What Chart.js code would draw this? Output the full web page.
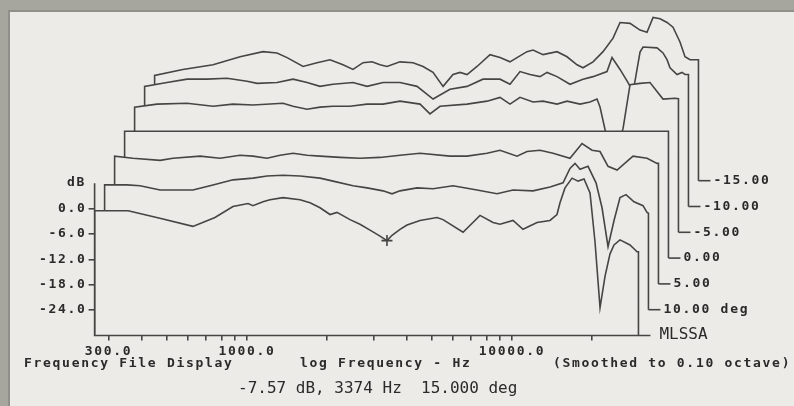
<!DOCTYPE html>
<html>
<head>
<meta charset="utf-8">
<script src="https://cdn.jsdelivr.net/npm/chart.js@4.4.1/dist/chart.umd.min.js"></script>
<style>
  html, body { margin: 0; padding: 0; }
  body { width: 794px; height: 406px; background: #a6a59e; position: relative; overflow: hidden; }
  #panel { position: absolute; left: 8px; top: 10px; right: 0; bottom: 0; background: #ecebe8;
           border-top: 2px solid #908f89; border-left: 2px solid #908f89; }
  canvas { position: absolute; left: 0; top: 0; }
</style>
</head>
<body>
<div id="panel"></div>
<canvas id="waterfall" width="794" height="406"></canvas>
<script>
// ---------------------------Data (Hz / dB re on-axis)------------------------------------------
const angles = [15, 10, 5, 0, -5, -10, -15];   // front to back
const traceLabels = ['MLSSA', '10.00 deg', '5.00', '0.00', '-5.00', '-10.00', '-15.00'];

const freq15 = [266, 356, 469, 625, 757, 885, 1009, 1053, 1149, 1221, 1367, 1585, 1729, 1886, 2057, 2186, 2447, 2669, 2912, 3177, 3374, 3526, 3779, 4017, 4496, 5212, 5491, 6535, 7572, 8479, 9010, 10088, 11002, 12428, 13910, 14782, 15174, 15849, 16847, 17749, 18696, 19696, 20571, 21486, 22436, 23432, 24261, 25552, 27878, 29632, 30000];
const db15 = [-0.5, -0.5, -2.3, -4.2, -2.1, 0.5, 1.2, 0.7, 1.6, 2.1, 2.6, 2.1, 1.4, 0.2, -1.4, -0.9, -2.6, -3.7, -5.1, -6.5, -7.57, -6.3, -4.9, -3.9, -2.8, -2.1, -2.6, -5.6, -1.6, -3.3, -3.7, -2.8, -4.9, -3.3, -2.8, -1.4, 1.4, 4.9, 7.2, 6.5, 7.0, 3.7, -7.9, -23.4, -16.0, -10.7, -8.6, -7.4, -8.6, -10.2, -10.2];

const freq10 = [266, 323, 362, 431, 482, 573, 682, 812, 966, 1091, 1254, 1453, 1729, 1936, 2303, 2601, 2988, 3232, 3463, 4017, 4616, 5491, 6764, 8049, 9248, 11002, 12757, 14283, 15174, 15849, 16555, 17749, 19024, 20044, 21115, 22246, 23432, 24690, 26460, 28615, 29632, 30000];
const db10 = [-0.5, -0.5, -0.7, -1.7, -1.7, -1.7, -0.5, 0.7, 1.1, 1.6, 1.8, 1.6, 1.1, 0.4, -0.7, -1.2, -1.9, -2.6, -1.9, -1.2, -1.4, -0.7, -1.7, -2.6, -1.7, -1.9, -1.0, 0.0, 3.4, 4.6, 3.2, 3.9, 0.0, -5.9, -15.1, -8.9, -3.5, -2.8, -4.5, -5.4, -7.0, -7.2];

const freq5 = [266, 312, 395, 442, 559, 665, 791, 885, 1000, 1120, 1254, 1416, 1585, 1886, 2243, 2669, 3177, 3779, 4904, 5684, 6764, 7572, 8778, 9575, 10720, 12003, 13910, 15441, 16847, 18059, 19357, 20940, 24050, 27164, 29632, 30000];
const db5 = [0.2, -0.3, -0.8, -0.3, 0.2, -0.3, 0.4, 0.2, -0.3, 0.4, 0.9, 0.4, 0.2, -0.1, -0.3, -0.1, 0.4, 0.9, 0.2, 0.2, 0.9, 1.6, 0.2, 1.3, 1.6, 0.9, -0.3, 3.2, 1.6, 1.3, -2.2, -3.1, 0.2, -0.3, -1.5, -1.5];

const freq0 = [266, 30000];
const db0 = [0, 0];

const freqM5 = [266, 323, 419, 526, 625, 744, 966, 1053, 1190, 1332, 1491, 1729, 2004, 2303, 2669, 3177, 3463, 3779, 4778, 5684, 6365, 6941, 7572, 8479, 9248, 10445, 11394, 12757, 13910, 14782, 15174, 15849, 16847, 17749, 18535, 19696, 21486, 23432, 24903, 26235, 29122, 30000];
const dbM5 = [-0.4, 0.3, 0.5, -0.2, 0.3, 0.1, 0.5, -0.2, -0.9, -0.4, -0.2, -0.2, 0.3, 0.3, 1.0, 0.3, -2.0, -0.2, 0.3, 1.0, 1.9, 0.3, 1.9, 0.8, 1.0, 0.3, 1.0, 0.3, 0.8, 1.5, -0.4, -5.7, -11.3, -9.0, -5.5, 4.9, 5.2, 5.4, 3.3, 1.5, 1.7, 1.6];

const freqM10 = [266, 323, 385, 458, 544, 648, 707, 841, 966, 1091, 1221, 1367, 1627, 1837, 2112, 2447, 2837, 3261, 3779, 4380, 5032, 5834, 6365, 6941, 7572, 8260, 8778, 9575, 10720, 12003, 13092, 14782, 15441, 16555, 17749, 18535, 19696, 20219, 22835, 24050, 24903, 25552, 27164, 28370, 29122, 30000];
const dbM10 = [-1.6, -0.7, 0.1, 0.1, 0.3, -0.4, -0.9, -0.7, 0.1, -0.7, -1.6, -1.1, -0.7, -1.6, -0.7, -0.7, -1.6, -4.6, -2.3, -1.6, 0.1, 0.1, -1.1, 1.9, 1.2, 0.7, 1.7, 0.7, -1.1, 0.1, 0.7, 1.9, 5.2, 2.4, -0.7, -3.0, 6.5, 7.7, 7.5, 6.3, 4.7, 2.8, 1.2, 1.7, 1.2, 1.2];

const freqM15 = [266, 340, 442, 559, 682, 770, 841, 966, 1091, 1221, 1367, 1491, 1627, 1759, 1886, 2004, 2243, 2512, 2740, 2988, 3261, 3556, 3779, 4017, 4380, 4904, 5350, 5834, 6200, 6764, 7126, 7773, 8778, 9575, 10445, 11002, 12003, 13092, 14283, 15174, 16555, 18059, 19187, 20219, 21486, 22835, 24050, 25552, 26690, 27878, 29122, 30000];
const dbM15 = [-5.1, -3.7, -2.6, -0.7, 0.5, 0.2, -0.9, -3.0, -2.1, -1.4, -2.6, -3.7, -2.1, -1.9, -2.6, -3.0, -1.9, -2.1, -3.0, -4.4, -7.7, -4.9, -4.4, -4.9, -3.0, -0.2, -0.9, -1.9, -0.9, 0.5, 0.9, -0.2, 0.5, -0.7, -2.6, -3.3, -1.9, 0.5, 3.7, 7.4, 7.2, 5.6, 5.1, 8.6, 8.3, 7.4, 6.3, 2.8, -0.7, -1.4, -1.4, -1.4];

const yTicks = [0, -6, -12, -18, -24];
const xTicks = [300, 400, 500, 600, 700, 800, 900, 1000, 2000, 3000, 4000, 5000, 6000, 7000, 8000, 9000, 10000, 20000];
const xLabelled = [300, 1000, 10000];
const cursor = { hz: 3374, db: -7.57, deg: 15 };
// ----------------------------------------------------------------------------------------------

const traces = [[freq15, db15], [freq10, db10], [freq5, db5], [freq0, db0],
                [freqM5, dbM5], [freqM10, dbM10], [freqM15, dbM15]];

const lineColor = '#454543';
const textColor = '#2a2a2a';
const paper = '#ecebe8';
const dbFloor = -30;
const stepDb = 6.1;      // each trace sits this many dB above the one in front
const stepF = 1.0908;    // and this ratio to the right
const monoBold = { family: '"DejaVu Sans Mono"', size: 13, weight: 'bold' };

// box for one trace: up from its baseline, along the curve, back down
function traceData(k) {
  const fr = traces[k][0], db = traces[k][1];
  const sx = Math.pow(stepF, k);
  const base = dbFloor + stepDb * k;
  const pts = fr.map((f, i) => ({ x: f * sx, y: db[i] + stepDb * k }));
  pts.unshift({ x: fr[0] * sx, y: base });
  pts.push({ x: fr[fr.length - 1] * sx, y: base });
  return pts;
}

const datasets = [{
  data: [{ x: cursor.hz, y: cursor.db }],
  showLine: false, fill: false,
  pointStyle: 'cross', pointRadius: 5.5, pointBorderWidth: 1.6,
  pointBorderColor: lineColor
}];
angles.forEach((a, k) => {
  datasets.push({
    label: a + ' deg',
    data: traceData(k),
    borderColor: lineColor,
    borderWidth: 1.6,
    backgroundColor: paper,
    fill: { value: dbFloor + stepDb * k },
    pointRadius: 0,
    tension: 0
  });
});

const decor = {
  id: 'decor',
  beforeDraw(chart) {
    chart.ctx.letterSpacing = '1.7px';
  },
  afterDraw(chart) {
    const { ctx } = chart;
    const x = chart.scales.x, y = chart.scales.y;
    ctx.save();
    ctx.strokeStyle = lineColor;
    ctx.lineWidth = 1.6;
    ctx.fillStyle = textColor;
    ctx.textBaseline = 'middle';

    // axis lines only over the dB range that is labelled
    const endFront = x.getPixelForValue(traces[0][0][traces[0][0].length - 1]);
    ctx.beginPath();
    ctx.moveTo(x.left, y.getPixelForValue(6));
    ctx.lineTo(x.left, y.getPixelForValue(dbFloor));
    ctx.lineTo(endFront + 12, y.getPixelForValue(dbFloor));
    ctx.stroke();

    // leaders and angle labels at each trace's baseline
    ctx.font = 'bold 13px "DejaVu Sans Mono"';
    angles.forEach((a, k) => {
      const fr = traces[k][0];
      const xe = x.getPixelForValue(fr[fr.length - 1] * Math.pow(stepF, k));
      const yb = y.getPixelForValue(dbFloor + stepDb * k);
      if (k === 0) {
        ctx.save();
        ctx.letterSpacing = '0px';
        ctx.font = '16px "DejaVu Sans Mono"';
        ctx.fillText(traceLabels[k], xe + 21, yb - 1);
        ctx.restore();
        return;
      }
      ctx.beginPath();
      ctx.moveTo(xe, yb);
      ctx.lineTo(xe + 12, yb);
      ctx.stroke();
      ctx.fillText(traceLabels[k], xe + 15, yb);
    });

    ctx.textAlign = 'right';
    ctx.fillText('dB', 86, y.getPixelForValue(6.2));
    ctx.textAlign = 'left';
    ctx.fillText('Frequency File Display', 24, 364);
    ctx.fillText('log Frequency - Hz', 300, 364);
    ctx.fillText('(Smoothed to 0.10 octave)', 553, 364);

    ctx.letterSpacing = '0px';
    ctx.font = '16px "DejaVu Sans Mono"';
    ctx.fillText(cursor.db.toFixed(2) + ' dB, ' + cursor.hz + ' Hz  ' + cursor.deg.toFixed(3) + ' deg', 238, 389);
    ctx.restore();
  }
};

new Chart(document.getElementById('waterfall'), {
  type: 'line',
  data: { datasets: datasets },
  options: {
    responsive: false,
    animation: false,
    events: [],
    layout: { padding: { top: 3.1, right: 54, left: 0, bottom: 0 } },
    plugins: { legend: { display: false }, tooltip: { enabled: false } },
    scales: {
      x: {
        type: 'logarithmic',
        min: 266,
        max: 72500,
        afterBuildTicks: (s) => { s.ticks = xTicks.map(v => ({ value: v })); },
        afterFit: (s) => { s.height = 70.5; },
        grid: { drawOnChartArea: false, drawTicks: true, tickLength: 5, color: lineColor, lineWidth: 1.6 },
        border: { display: false },
        ticks: {
          autoSkip: false, maxRotation: 0, padding: 3, color: textColor, font: monoBold,
          callback: (v) => xLabelled.includes(v) ? v.toFixed(1) : ''
        }
      },
      y: {
        min: dbFloor,
        max: 47,
        afterBuildTicks: (s) => { s.ticks = yTicks.map(v => ({ value: v })); },
        afterFit: (s) => { s.width = 94.6; },
        grid: { drawOnChartArea: false, drawTicks: true, tickLength: 6, color: lineColor, lineWidth: 1.6 },
        border: { display: false },
        ticks: { padding: 2, color: textColor, font: monoBold, callback: (v) => v.toFixed(1) }
      }
    }
  },
  plugins: [decor]
});
</script>
</body>
</html>
